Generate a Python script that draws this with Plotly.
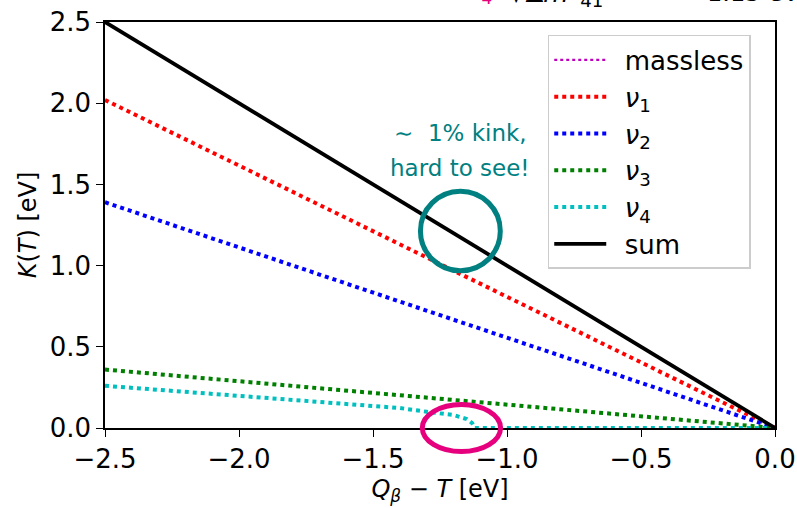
import plotly.graph_objects as go

# x values (Q_beta - T in eV)
x_vals = [-2.5, -2.0, -1.5, -1.4, -1.3, -1.2, -1.15, -1.13, -1.12, -1.0, -0.5, 0.0]
massless = [2.5, 2.0, 1.5, 1.4, 1.3, 1.2, 1.15, 1.13, 1.12, 1.0, 0.5, 0.0]
nu1 = [2.02, 1.616, 1.212, 1.131, 1.05, 0.97, 0.929, 0.913, 0.905, 0.808, 0.404, 0.0]
nu2 = [1.39, 1.112, 0.834, 0.778, 0.723, 0.667, 0.639, 0.628, 0.623, 0.556, 0.278, 0.0]
nu3 = [0.36, 0.288, 0.216, 0.202, 0.187, 0.173, 0.166, 0.163, 0.161, 0.144, 0.072, 0.0]
nu4 = [0.26, 0.20, 0.14, 0.123, 0.10, 0.08, 0.055, 0.03, 0.0, 0.0, 0.0, 0.0]
ksum = [2.5, 2.0, 1.5, 1.4, 1.3, 1.2, 1.15, 1.128, 1.114, 0.995, 0.497, 0.0]

x_ticks = [-2.5, -2.0, -1.5, -1.0, -0.5, 0.0]
y_ticks = [0.0, 0.5, 1.0, 1.5, 2.0, 2.5]
x_range = [-2.5, 0.0]
y_range = [0.0, 2.5]

W, H = 797, 508
ML, MR, MT, MB = 105, 22, 22, 80
FS = 26

series = [
    ("massless", massless, "#bf00bf", 2.2, "dot"),
    ("<i>ν</i><sub>1</sub>", nu1, "#ff0000", 4, "dot"),
    ("<i>ν</i><sub>2</sub>", nu2, "#0000ff", 4, "dot"),
    ("<i>ν</i><sub>3</sub>", nu3, "#008000", 4, "dot"),
    ("<i>ν</i><sub>4</sub>", nu4, "#00bfbf", 4, "dot"),
    ("sum", ksum, "#000000", 3.8, "solid"),
]

fig = go.Figure()
for i, (name, yv, col, w, dash) in enumerate(series):
    fig.add_trace(go.Scatter(
        x=x_vals, y=yv, mode="lines", name="\u00a0\u2009" + name, legendgroup=f"g{i}",
        line=dict(color=col, width=w, dash=dash),
    ))

pw = W - ML - MR
ph = H - MT - MB

def px_x(xd):
    return (xd - x_range[0]) / (x_range[1] - x_range[0])

def px_y(yd):
    return (yd - y_range[0]) / (y_range[1] - y_range[0])

# teal circle (highlight of kink on sum)
cx, cy, rx, ry = -1.174, 1.213, 0.149, 0.245
fig.add_shape(type="circle", xref="paper", yref="paper",
              x0=px_x(cx - rx), x1=px_x(cx + rx), y0=px_y(cy - ry), y1=px_y(cy + ry),
              line=dict(color="#008080", width=5))
# magenta ellipse at the nu4 endpoint
ex, ey, erx, ery = -1.17, 0.0, 0.146, 0.145
fig.add_shape(type="circle", xref="paper", yref="paper",
              x0=px_x(ex - erx), x1=px_x(ex + erx), y0=px_y(ey - ery), y1=px_y(ey + ery),
              line=dict(color="#e6007e", width=5))

teal_font = dict(color="#008080", size=23, family="DejaVu Sans")
fig.add_annotation(xref="paper", yref="paper", x=px_x(-1.175), y=px_y(1.816),
                   text="∼  1% kink,", showarrow=False, font=teal_font,
                   xanchor="center", yanchor="middle")
fig.add_annotation(xref="paper", yref="paper", x=px_x(-1.175), y=px_y(1.601),
                   text="hard to see!", showarrow=False, font=teal_font,
                   xanchor="center", yanchor="middle")

# clipped text at the very top of the figure
fig.add_annotation(xref="paper", yref="paper", x=px_x(-1.12), y=1 + 12 / ph,
                   text="<i>m</i><sub>4</sub>", showarrow=False, yanchor="bottom",
                   font=dict(color="#e6007e", size=24, family="DejaVu Sans"))
fig.add_annotation(xref="paper", yref="paper", x=px_x(-0.634), y=1 + 9 / ph,
                   text="√Δ<i>m</i><sup>2</sup><sub>41</sub>", showarrow=False, yanchor="bottom",
                   font=dict(color="black", size=26, family="DejaVu Sans"))
fig.add_annotation(xref="paper", yref="paper", x=px_x(-0.26), y=1 + 13 / ph,
                   text="1.15 eV", showarrow=False, yanchor="bottom", xanchor="left",
                   font=dict(color="black", size=24, family="DejaVu Sans"))

axis_common = dict(showgrid=False, zeroline=False, showline=True, linecolor="black",
                   linewidth=1.5, mirror=True, ticks="outside", ticklen=7, tickwidth=1.4,
                   tickcolor="black", automargin=False,
                   tickfont=dict(size=FS, color="black", family="DejaVu Sans"))

fig.update_layout(
    width=W, height=H,
    margin=dict(l=ML, r=MR, t=MT, b=MB),
    plot_bgcolor="white", paper_bgcolor="white",
    font=dict(family="DejaVu Sans", color="black"),
    xaxis=dict(range=x_range, tickvals=x_ticks, tickformat=".1f",
               title=dict(text="<i>Q</i><sub><i>β</i></sub> − <i>T</i> [eV]", font=dict(size=24), standoff=7),
               **axis_common),
    yaxis=dict(range=y_range, tickvals=y_ticks, tickformat=".1f",
               title=dict(text="<i>K</i>(<i>T</i>) [eV]", font=dict(size=24), standoff=6),
               **axis_common),
    legend=dict(x=px_x(-0.848), y=px_y(2.42), xanchor="left", yanchor="top",
                bgcolor="white", bordercolor="#cccccc", borderwidth=1.5,
                font=dict(size=FS, color="black"), tracegroupgap=0,
                itemwidth=52),
    showlegend=True,
)

fig.write_html("out.html", config={"displayModeBar": False},
               post_script="document.body.style.margin='0';")
